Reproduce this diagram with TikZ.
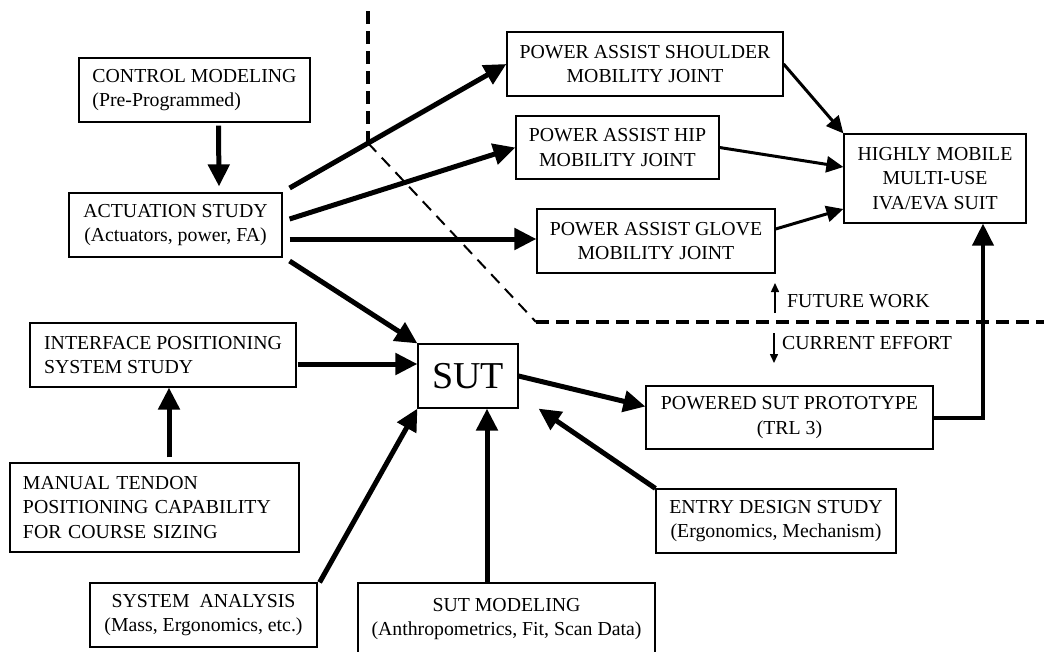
\documentclass[tikz,border=0pt]{standalone}
\usepackage{fontspec}
\setmainfont{Liberation Serif}
\usetikzlibrary{arrows.meta}

\begin{document}
\begin{tikzpicture}[x=1pt, y=-1pt, every node/.style={font=\fontsize{19.8}{24.5}\selectfont},
  box/.style={draw, line width=1.2pt, inner sep=0pt, align=center},
  bigarrow/.style={-{Triangle[length=22pt,width=21pt]}, line width=5pt},
  midarrow/.style={-{Triangle[length=17pt,width=16pt]}, line width=3pt},
  smallarrow/.style={-{Triangle[length=9pt,width=8pt]}, line width=1.5pt},
  border/.style={line width=4pt, dash pattern=on 13pt off 7pt}]
\useasboundingbox (0,0) rectangle (1044,651);
% Draw boundary
\draw[border] (368,11)--(368,143);
\draw[line width=2pt, dash pattern=on 12pt off 8pt] (368,143)--(536,322);
\draw[border] (536,322)--(1044,322);
% Draw boxes
\node[box, align=left, minimum width=231pt, minimum height=64pt] (ctrl) at (194.5,90) {CONTROL MODELING\\(Pre-Programmed)};
\node[box, minimum width=213pt, minimum height=64pt] (act) at (175.5,225) {ACTUATION STUDY\\(Actuators, power, FA)};
\node[box, align=left, minimum width=266pt, minimum height=64pt] (iface) at (163,355) {INTERFACE POSITIONING\\SYSTEM STUDY};
\node[box, align=left, text width=263pt, inner xsep=13pt, minimum height=89pt] (manual) at (154.5,507.5) {MANUAL TENDON\\POSITIONING CAPABILITY\\FOR COURSE SIZING};
\node[box, minimum width=227pt, minimum height=64pt] (sysan) at (203.5,615) {SYSTEM~~ANALYSIS\\(Mass, Ergonomics, etc.)};
\node[box, minimum width=297pt, minimum height=72pt] (sutmod) at (506.5,619) {SUT MODELING\\(Anthropometrics, Fit, Scan Data)};
\node[box, minimum width=100pt, minimum height=64pt, font=\fontsize{38}{40}\selectfont] (sut) at (468,376) {SUT};
\node[box, minimum width=240pt, minimum height=64pt] (entry) at (776,521) {ENTRY DESIGN STUDY\\(Ergonomics, Mechanism)};
\node[box, minimum width=287pt, minimum height=63pt] (proto) at (789.5,417.5) {POWERED SUT PROTOTYPE\\(TRL 3)};
\node[box, minimum width=276pt, minimum height=64pt] (shoulder) at (645,64) {POWER ASSIST SHOULDER\\MOBILITY JOINT};
\node[box, minimum width=203pt, minimum height=63pt] (hip) at (617.5,147.5) {POWER ASSIST HIP\\MOBILITY JOINT};
\node[box, minimum width=238pt, minimum height=64pt] (glove) at (656,241) {POWER ASSIST GLOVE\\MOBILITY JOINT};
\node[box, minimum width=182pt, minimum height=89pt] (suit) at (935,178.5) {HIGHLY MOBILE\\MULTI-USE\\IVA/EVA SUIT};
% Draw labels
\node[anchor=west, inner sep=0pt] (future) at (787,301) {FUTURE WORK};
\node[anchor=west, inner sep=0pt] (current) at (782,343) {CURRENT EFFORT};
% Draw arrows
\draw[bigarrow] ([xshift=24pt,yshift=-3pt]ctrl.south)--([xshift=43.5pt,yshift=6pt]act.north);
\draw[bigarrow] ([xshift=7pt,yshift=37pt]act.east)--(shoulder.west);
\draw[bigarrow] ([xshift=7pt,yshift=6pt]act.east)--(hip.west);
\draw[bigarrow] ([xshift=7pt,yshift=-14pt]act.east)--([yshift=2pt]glove.west);
\draw[bigarrow] ([xshift=7pt,yshift=-36pt]act.east)--(sut.north west);
\draw[bigarrow] ([xshift=1pt,yshift=-9pt]iface.east)--([yshift=12pt]sut.west);
\draw[bigarrow] ([xshift=14.5pt,yshift=5pt]manual.north)--([xshift=6pt]iface.south);
\draw[bigarrow] ([xshift=2pt]sysan.north east)--(sut.south west);
\draw[bigarrow] ([xshift=-19.5pt]sutmod.north)--([xshift=19pt]sut.south);
\draw[bigarrow] (entry.north west)--([xshift=20pt]sut.south east);
\draw[bigarrow] (sut.east)--([yshift=11pt]proto.west);
\draw[bigarrow, line width=4pt] (proto.east) -| ([xshift=48pt]suit.south);
\draw[midarrow] (shoulder.east)--(suit.north west);
\draw[midarrow] (hip.east)--([yshift=11.5pt]suit.west);
\draw[midarrow] ([yshift=12pt]glove.east)--([yshift=-30.5pt]suit.west);
\draw[smallarrow] ([xshift=-12pt,yshift=-12pt]future.west)--([xshift=-12pt,yshift=18pt]future.west);
\draw[smallarrow] ([xshift=-8pt,yshift=10pt]current.west)--([xshift=-8pt,yshift=-20pt]current.west);
\end{tikzpicture}
\end{document}
